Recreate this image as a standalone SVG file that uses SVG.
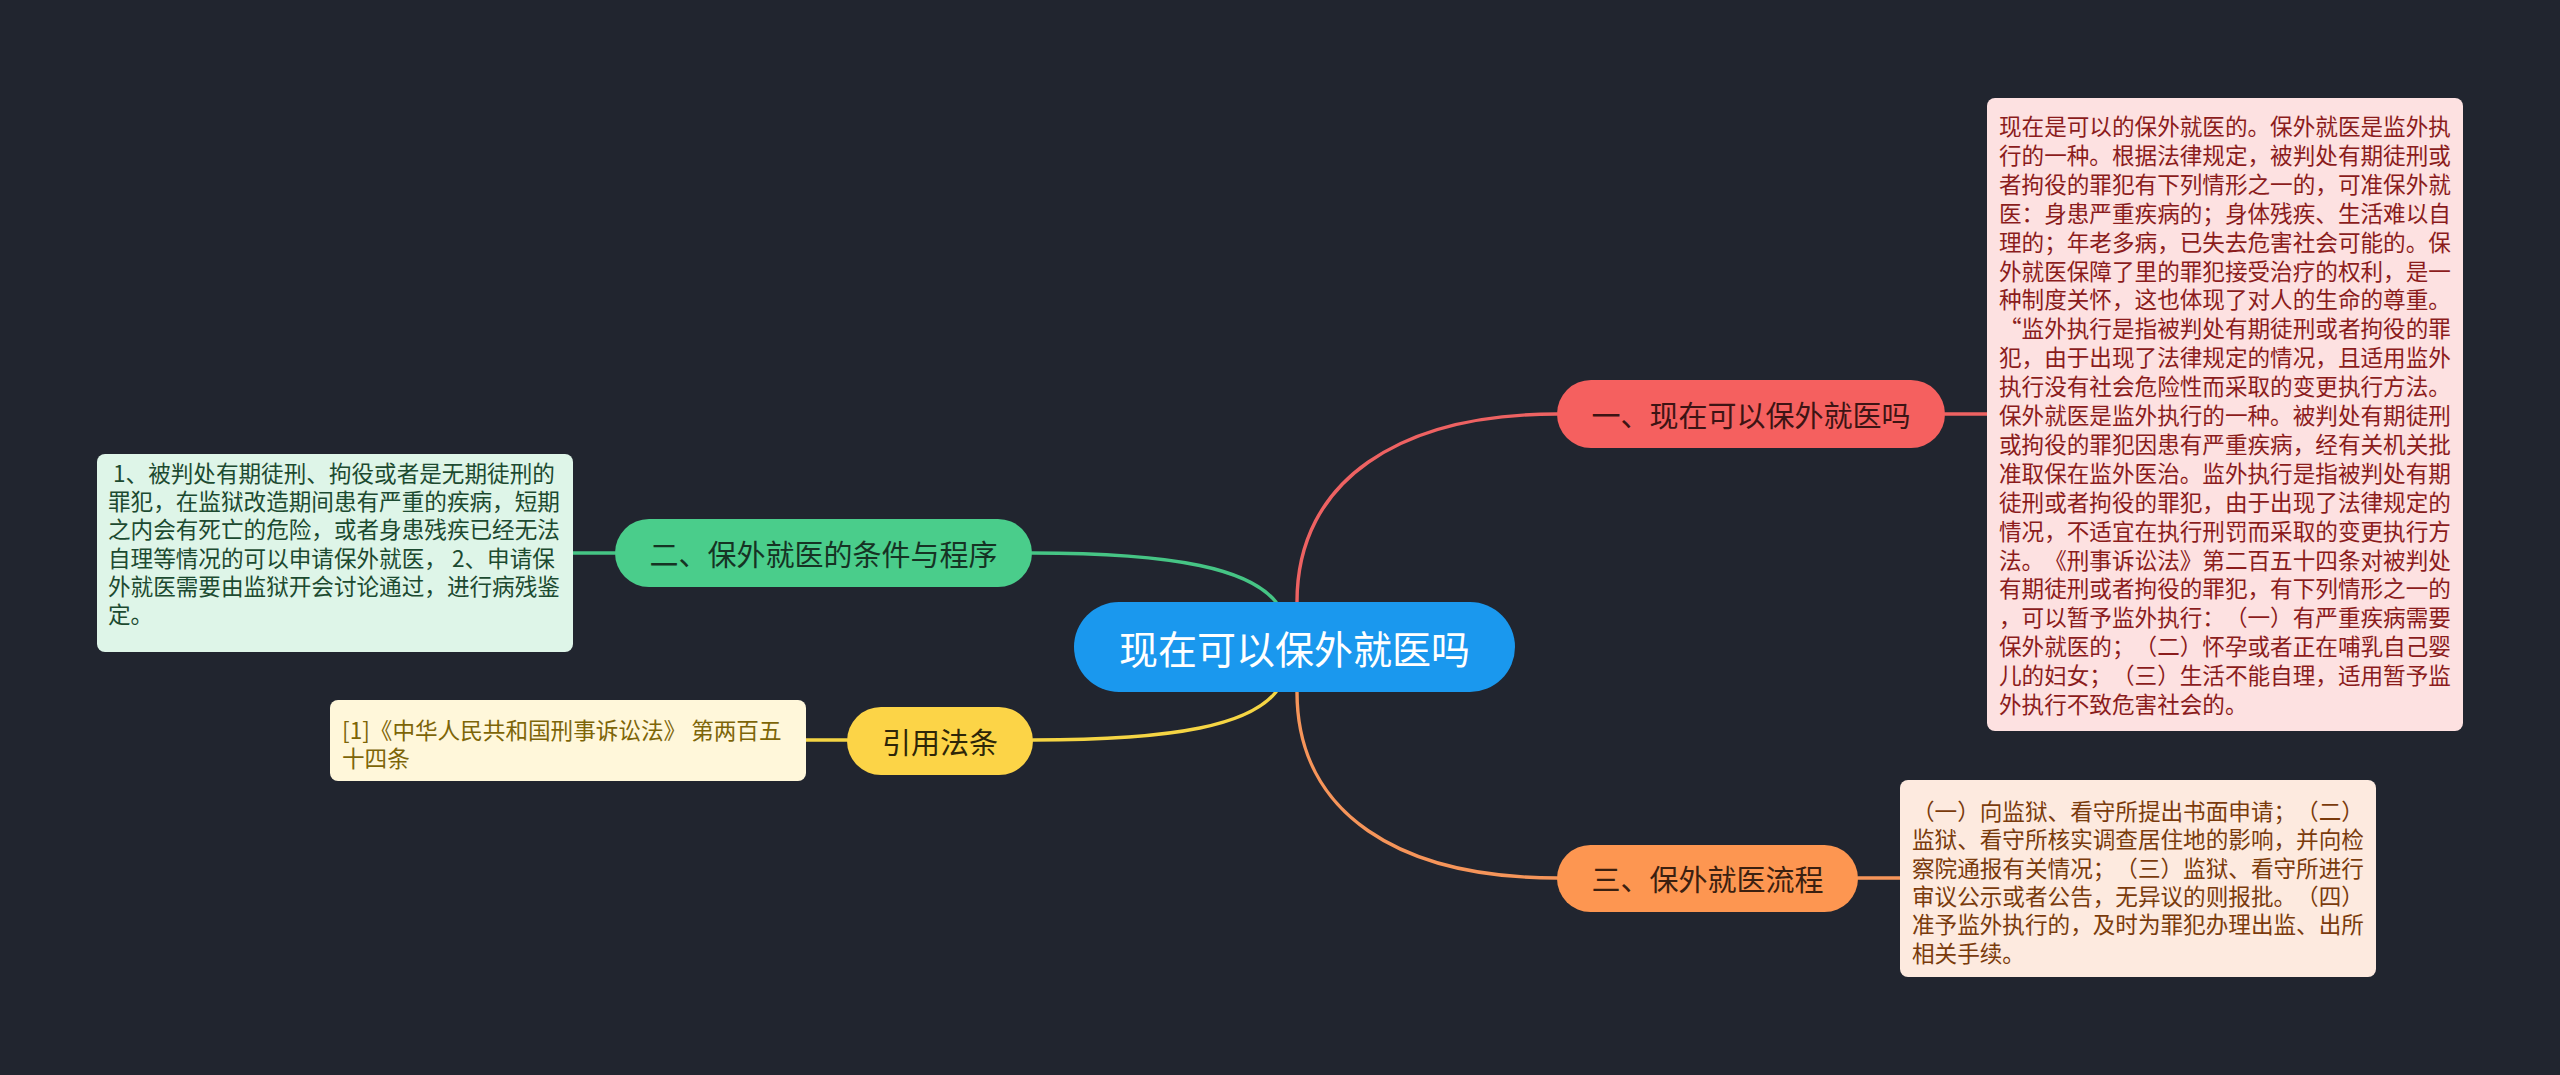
<svg xmlns="http://www.w3.org/2000/svg" width="2560" height="1075" viewBox="0 0 2560 1075">
<style>
  text { font-family: "Noto Sans CJK SC", "Noto Sans", sans-serif; text-spacing-trim: space-all; }
  .topic { font-size: 29px; text-anchor: middle; dominant-baseline: central; }
  .note { font-size: 22.6px; dominant-baseline: central; }
  .conn { fill: none; stroke-width: 3.4; stroke-linecap: round; }
</style>
<rect width="2560" height="1075" fill="#21252f"/>

<g id="connectors">
  <path class="conn" stroke="#ee6262" d="M1297,602 C1297,480 1400,414 1557,414"/>
  <path class="conn" stroke="#f6955a" d="M1297,692 C1297,814 1400,878 1557,878"/>
  <path class="conn" stroke="#46c585" d="M1276,602 C1250,570 1180,553 1032,553"/>
  <path class="conn" stroke="#f5d544" d="M1276,692 C1250,724 1180,740 1033,740"/>
  <path class="conn" stroke="#ee6262" d="M1945,414 L1987,414"/>
  <path class="conn" stroke="#f6955a" d="M1858,878 L1900,878"/>
  <path class="conn" stroke="#46c585" d="M573,553 L615,553"/>
  <path class="conn" stroke="#f5d544" d="M806,740 L847,740"/>
</g>

<g id="root">
  <rect x="1074" y="602" width="441" height="90" rx="45" fill="#1a98ee"/>
  <text x="1294.5" y="647" font-size="39" fill="#ffffff" text-anchor="middle" dominant-baseline="central">现在可以保外就医吗</text>
</g>

<g id="node1">
  <rect x="1557" y="380" width="388" height="68" rx="34" fill="#f5605f"/>
  <text class="topic" x="1751" y="414" fill="#3d1414">一、现在可以保外就医吗</text>
</g>

<g id="node2">
  <rect x="615" y="519" width="417" height="68" rx="34" fill="#4acd8b"/>
  <text class="topic" x="823.5" y="553" fill="#163324">二、保外就医的条件与程序</text>
</g>

<g id="node3">
  <rect x="1557" y="845" width="301" height="67" rx="33.5" fill="#fd9651"/>
  <text class="topic" x="1707.5" y="878" fill="#3b2010">三、保外就医流程</text>
</g>

<g id="node4">
  <rect x="847" y="707" width="186" height="68" rx="34" fill="#fcd447"/>
  <text class="topic" x="940" y="741" fill="#2e2608">引用法条</text>
</g>

<g id="note1">
  <rect x="1987" y="98" width="476" height="633" rx="8" fill="#fde1e1"/>
  <text class="note" fill="#8b1c1c">
    <tspan x="1999" y="125">现在是可以的保外就医的。保外就医是监外执</tspan>
    <tspan x="1999" y="153.9">行的一种。根据法律规定，被判处有期徒刑或</tspan>
    <tspan x="1999" y="182.8">者拘役的罪犯有下列情形之一的，可准保外就</tspan>
    <tspan x="1999" y="211.7">医：身患严重疾病的；身体残疾、生活难以自</tspan>
    <tspan x="1999" y="240.6">理的；年老多病，已失去危害社会可能的。保</tspan>
    <tspan x="1999" y="269.5">外就医保障了里的罪犯接受治疗的权利，是一</tspan>
    <tspan x="1999" y="298.4">种制度关怀，这也体现了对人的生命的尊重。</tspan>
    <tspan x="1999" y="327.3">“监外执行是指被判处有期徒刑或者拘役的罪</tspan>
    <tspan x="1999" y="356.2">犯，由于出现了法律规定的情况，且适用监外</tspan>
    <tspan x="1999" y="385.1">执行没有社会危险性而采取的变更执行方法。</tspan>
    <tspan x="1999" y="414">保外就医是监外执行的一种。被判处有期徒刑</tspan>
    <tspan x="1999" y="442.9">或拘役的罪犯因患有严重疾病，经有关机关批</tspan>
    <tspan x="1999" y="471.8">准取保在监外医治。监外执行是指被判处有期</tspan>
    <tspan x="1999" y="500.7">徒刑或者拘役的罪犯，由于出现了法律规定的</tspan>
    <tspan x="1999" y="529.6">情况，不适宜在执行刑罚而采取的变更执行方</tspan>
    <tspan x="1999" y="558.5">法。《刑事诉讼法》第二百五十四条对被判处</tspan>
    <tspan x="1999" y="587.4">有期徒刑或者拘役的罪犯，有下列情形之一的</tspan>
    <tspan x="1999" y="616.3">，可以暂予监外执行：（一）有严重疾病需要</tspan>
    <tspan x="1999" y="645.2">保外就医的；（二）怀孕或者正在哺乳自己婴</tspan>
    <tspan x="1999" y="674.1">儿的妇女；（三）生活不能自理，适用暂予监</tspan>
    <tspan x="1999" y="703">外执行不致危害社会的。</tspan>
  </text>
</g>

<g id="note3">
  <rect x="1900" y="780" width="476" height="197" rx="8" fill="#fdeadf"/>
  <text class="note" fill="#7a3b0c">
    <tspan x="1912" y="810">（一）向监狱、看守所提出书面申请；（二）</tspan>
    <tspan x="1912" y="838.3">监狱、看守所核实调查居住地的影响，并向检</tspan>
    <tspan x="1912" y="866.6">察院通报有关情况；（三）监狱、看守所进行</tspan>
    <tspan x="1912" y="894.9">审议公示或者公告，无异议的则报批。（四）</tspan>
    <tspan x="1912" y="923.2">准予监外执行的，及时为罪犯办理出监、出所</tspan>
    <tspan x="1912" y="951.5">相关手续。</tspan>
  </text>
</g>

<g id="note2">
  <rect x="97" y="454" width="476" height="198" rx="8" fill="#def5e8"/>
  <text class="note" fill="#1c4a30">
    <tspan x="113" y="471.7">1、被判处有期徒刑、拘役或者是无期徒刑的</tspan>
    <tspan x="108" y="500">罪犯，在监狱改造期间患有严重的疾病，短期</tspan>
    <tspan x="108" y="528.3">之内会有死亡的危险，或者身患残疾已经无法</tspan>
    <tspan x="108" y="556.6">自理等情况的可以申请保外就医， 2、申请保</tspan>
    <tspan x="108" y="584.9">外就医需要由监狱开会讨论通过，进行病残鉴</tspan>
    <tspan x="108" y="613.2">定。</tspan>
  </text>
</g>

<g id="note4">
  <rect x="330" y="700" width="476" height="81" rx="8" fill="#fff7da"/>
  <text class="note" fill="#7d6508">
    <tspan x="342" y="729.3">[1]《中华人民共和国刑事诉讼法》 第两百五</tspan>
    <tspan x="342" y="757.3">十四条</tspan>
  </text>
</g>
</svg>
